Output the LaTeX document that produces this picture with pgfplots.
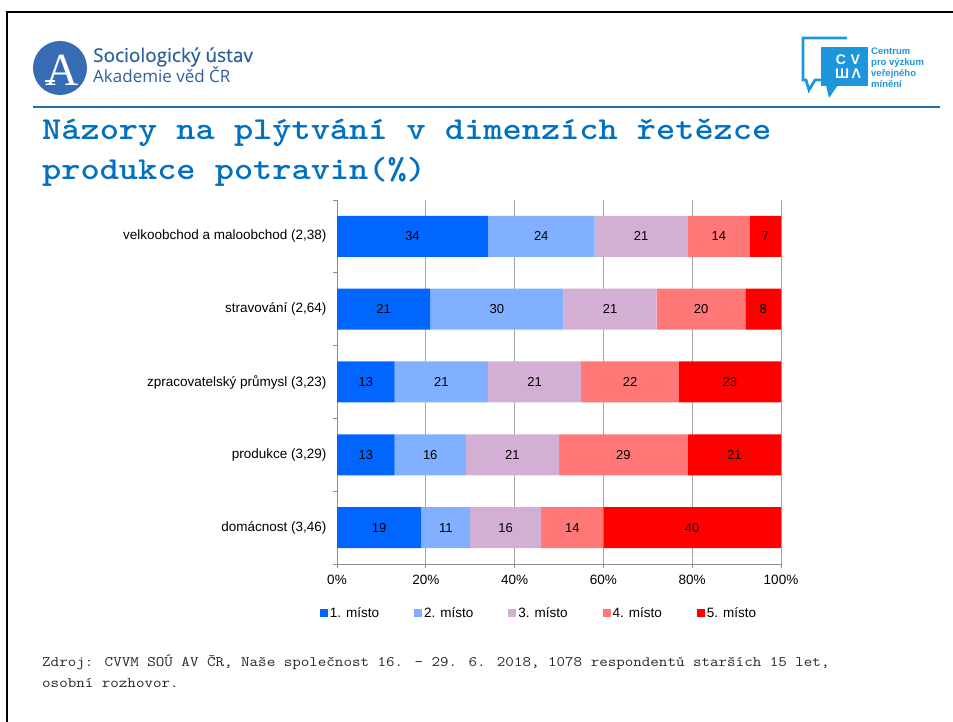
\documentclass[border=0pt]{standalone}
\usepackage{pgfplots}
\pgfplotsset{compat=1.18}
\usepackage{pgfplotstable}
\usepackage{fontspec}
\setmainfont{Liberation Sans}
\newfontfamily\logofont{Open Sans}[FakeBold=0.5]
\newfontfamily\logofontb{Open Sans}
\newfontfamily\serifA{Liberation Serif}

\definecolor{c1}{RGB}{0,102,255}
\definecolor{c2}{RGB}{128,176,255}
\definecolor{c3}{RGB}{211,176,211}
\definecolor{c4}{RGB}{255,119,119}
\definecolor{c5}{RGB}{255,0,0}
\definecolor{titleblue}{RGB}{0,112,192}
\definecolor{logoblue}{RGB}{55,108,180}
\definecolor{logotext}{RGB}{45,95,160}
\definecolor{cvvmblue}{RGB}{30,150,220}
\definecolor{rule}{RGB}{31,110,170}
\definecolor{axisgray}{RGB}{140,140,140}
\definecolor{gridgray}{RGB}{165,165,165}

\pgfplotstableread{
y s1 s2 s3 s4 s5
4 34 24 21 14 7
3 21 30 21 20 8
2 13 21 21 22 23
1 13 16 21 29 21
0 19 11 16 14 40
}\data

\newcommand{\titlefont}{\ttfamily\bfseries\fontsize{32}{36}\selectfont}
\newcommand{\footfont}{\ttfamily\fontsize{14.5}{17}\selectfont}

\begin{document}
\begin{tikzpicture}[x=1pt,y=1pt]
\useasboundingbox (0,0) rectangle (953,722);
% frame
\draw[line width=2.5pt] (7,0) -- (7,710) -- (953,710);
% header rule
\draw[rule, line width=1.2pt] (33,615) -- (940,615);
% SOU logo
\fill[logoblue] (60,654) circle (27);
\node[text=white, font=\serifA\fontsize{46}{46}\selectfont, inner sep=0] at (62,652) {A};
\draw[white, line width=1.3pt] (45,641) -- (55,641);
\node[anchor=base west, inner sep=0, font=\logofont\fontsize{19}{20}\selectfont, text=logotext] at (93,660) {Sociologický ústav};
\node[anchor=base west, inner sep=0, font=\logofontb\fontsize{17}{20}\selectfont, text=logotext] at (93,639.5) {Akademie věd ČR};
% CVVM logo
\draw[cvvmblue, line width=2.8pt] (847,684) -- (803,684) -- (803,642) -- (806,642) -- (809,632) -- (815,642) -- (822,642);
\fill[cvvmblue] (821,675) rectangle (868,636);
\fill[cvvmblue] (826,637) -- (829,624) -- (838,637) -- cycle;
\node[text=white, font=\bfseries\fontsize{14}{14}\selectfont, inner sep=0] at (848,662) {C\,\,V};
\node[text=white, font=\bfseries\fontsize{14}{14}\selectfont, inner sep=0] at (848,648) {Ш\,Λ};
\begin{scope}[every node/.style={anchor=base west, inner sep=0, text=cvvmblue, font=\bfseries\fontsize{9.5}{10}\selectfont}]
\node at (871,667.5) {Centrum};
\node at (871,656.5) {pro výzkum};
\node at (871,645.5) {veřejného};
\node at (871,634.5) {mínění};
\end{scope}
% title
\node[anchor=base west, inner sep=0, text=titleblue] at (42,582) {\scalebox{1.142}[1]{\titlefont Názory na plýtvání v dimenzích řetězce}};
\node[anchor=base west, inner sep=0, text=titleblue] at (42,542) {\scalebox{1.142}[1]{\titlefont produkce potravin(\%)}};
% footnote
\node[anchor=base west, inner sep=0, text=black!85] at (42,55) {\scalebox{1.142}[1]{\footfont Zdroj: CVVM SOÚ AV ČR, Naše společnost 16. – 29. 6. 2018, 1078 respondentů starších 15 let,}};
\node[anchor=base west, inner sep=0, text=black!85] at (42,34) {\scalebox{1.142}[1]{\footfont osobní rozhovor.}};

\begin{axis}[
  at={(337pt,158pt)}, anchor=south west,
  width=444pt, height=364pt, scale only axis,
  xbar stacked, bar width=41pt,
  xmin=0, xmax=100, ymin=-0.5, ymax=4.5,
  axis lines*=left,
  axis line style={draw=axisgray, line width=0.8pt},
  xtick={0,20,...,100},
  xticklabels={0\%,20\%,40\%,60\%,80\%,100\%},
  xmajorgrids, grid style={draw=gridgray, line width=0.8pt},
  ytick={-0.5,0.5,1.5,2.5,3.5,4.5}, yticklabels={\empty,\empty,\empty,\empty,\empty,\empty},
  extra y ticks={0,1,2,3,4},
  extra y tick labels={{domácnost (3,46)},{produkce (3,29)},{zpracovatelský průmysl (3,23)},{stravování (2,64)},{velkoobchod a maloobchod (2,38)}},
  extra y tick style={tick style={draw=none}, grid=none, yticklabel style={xshift=-3pt}},
  tick align=outside, major tick length=4pt,
  tick style={draw=axisgray, line width=0.8pt},
  ticklabel style={font=\fontsize{13.5}{16}\selectfont, text=black},
  xticklabel style={yshift=-4pt},
  /pgf/number format/assume math mode=true,
  legend columns=5,
  legend style={draw=none, fill=none, at={(0.455,-0.135)}, anchor=center, font=\fontsize{13.5}{16}\selectfont, /tikz/every even column/.append style={column sep=33pt}},
  legend image code/.code={\fill[#1] (0pt,-4pt) rectangle (8pt,4pt);},
  point meta=explicit,
  nodes near coords,
  nodes near coords style={font=\fontsize{13}{15}\selectfont, text=black, anchor=center},
]
\addplot[fill=c1, draw=none] table[x=s1, y=y, meta=s1] {\data};
\addplot[fill=c2, draw=none] table[x=s2, y=y, meta=s2] {\data};
\addplot[fill=c3, draw=none] table[x=s3, y=y, meta=s3] {\data};
\addplot[fill=c4, draw=none] table[x=s4, y=y, meta=s4] {\data};
\addplot[fill=c5, draw=none] table[x=s5, y=y, meta=s5] {\data};
\legend{1. místo, 2. místo, 3. místo, 4. místo, 5. místo}
\end{axis}
\end{tikzpicture}
\end{document}
